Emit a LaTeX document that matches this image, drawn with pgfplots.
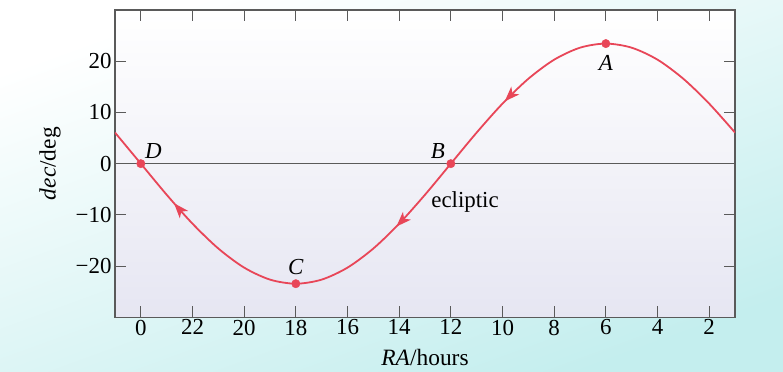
\documentclass[border=0pt]{standalone}
\usepackage{pgfplots}
\pgfplotsset{compat=1.18}
\usepackage{fontspec}
\setmainfont{Liberation Serif}
\usetikzlibrary{arrows.meta,decorations.markings}
\definecolor{ecl}{RGB}{232,70,88}
\definecolor{outcyan}{RGB}{196,238,238}
\definecolor{inlav}{RGB}{230,230,242}
\definecolor{axgray}{RGB}{90,90,90}

\pgfplotstableread{
u dec
-1 6.07
0 0
1 -6.07
2 -11.72
3 -16.57
4 -20.30
5 -22.64
6 -23.44
7 -22.64
8 -20.30
9 -16.57
10 -11.72
11 -6.07
12 0
13 6.07
14 11.72
15 16.57
16 20.30
17 22.64
18 23.44
19 22.64
20 20.30
21 16.57
22 11.72
23 6.07
}\ecliptic

\begin{document}
\begin{tikzpicture}[x=1bp,y=1bp]
\shade[top color=white, bottom color=outcyan, shading angle=20] (-115,-54) rectangle (668,317.3);
\begin{axis}[
  at={(0,0)}, anchor=south west, scale only axis,
  width=620bp, height=307.3bp,
  xmin=-1, xmax=23, ymin=-30, ymax=30,
  xtick={0,2,...,22},
  xticklabels={0,22,20,18,16,14,12,10,8,6,4,2},
  ytick={-20,-10,0,10,20},
  yticklabels={−20,−10,0,10,20},
  major tick length=11bp,
  tick style={axgray, line width=0.9bp},
  axis line style={axgray, line width=1.1bp},
  axis background/.style={shade, top color=white, bottom color=inlav},
  tick label style={font=\fontsize{23}{26}\selectfont},
  xticklabel style={yshift=1bp},
  /pgf/number format/assume math mode=true,
  every axis x label/.style={at={(axis description cs:0.5,-0.130)}, anchor=center, font=\fontsize{23.5}{27}\selectfont},
  every axis y label/.style={at={(axis description cs:-0.1048,0.5)}, rotate=90, anchor=center, font=\fontsize{23.5}{27}\selectfont},
  xlabel={\textit{RA}/hours},
  ylabel={\textit{dec}/deg},
]
\addplot[axgray, line width=0.9bp] coordinates {(-1,0) (23,0)};
\addplot[ecl, line width=1.8bp, smooth, postaction={decorate},
  decoration={markings,
    mark=at position 0.114 with {\arrowreversed[line width=1.8bp]{Stealth[length=15bp,width=11bp,inset=4bp]}},
    mark=at position 0.447 with {\arrowreversed[line width=1.8bp]{Stealth[length=15bp,width=11bp,inset=4bp]}},
    mark=at position 0.652 with {\arrowreversed[line width=1.8bp]{Stealth[length=15bp,width=11bp,inset=4bp]}}}]
  table[x=u,y=dec] {\ecliptic};
\addplot[only marks, mark=*, mark size=4.2bp, ecl] coordinates {(0,0) (6,-23.44) (12,0) (18,23.44)};
\node[font=\fontsize{23}{26}\selectfont\itshape, anchor=center] at ([yshift=-19bp]axis cs:18,23.44) {A};
\node[font=\fontsize{23}{26}\selectfont\itshape, anchor=center] at ([xshift=-13bp,yshift=13bp]axis cs:12,0) {B};
\node[font=\fontsize{23}{26}\selectfont\itshape, anchor=center] at ([yshift=17bp]axis cs:6,-23.44) {C};
\node[font=\fontsize{23}{26}\selectfont\itshape, anchor=center] at ([xshift=12.5bp,yshift=12.5bp]axis cs:0,0) {D};
\node[font=\fontsize{23}{26}\selectfont, anchor=center] at (axis cs:12.55,-7.5) {ecliptic};
\end{axis}
\end{tikzpicture}
\end{document}
